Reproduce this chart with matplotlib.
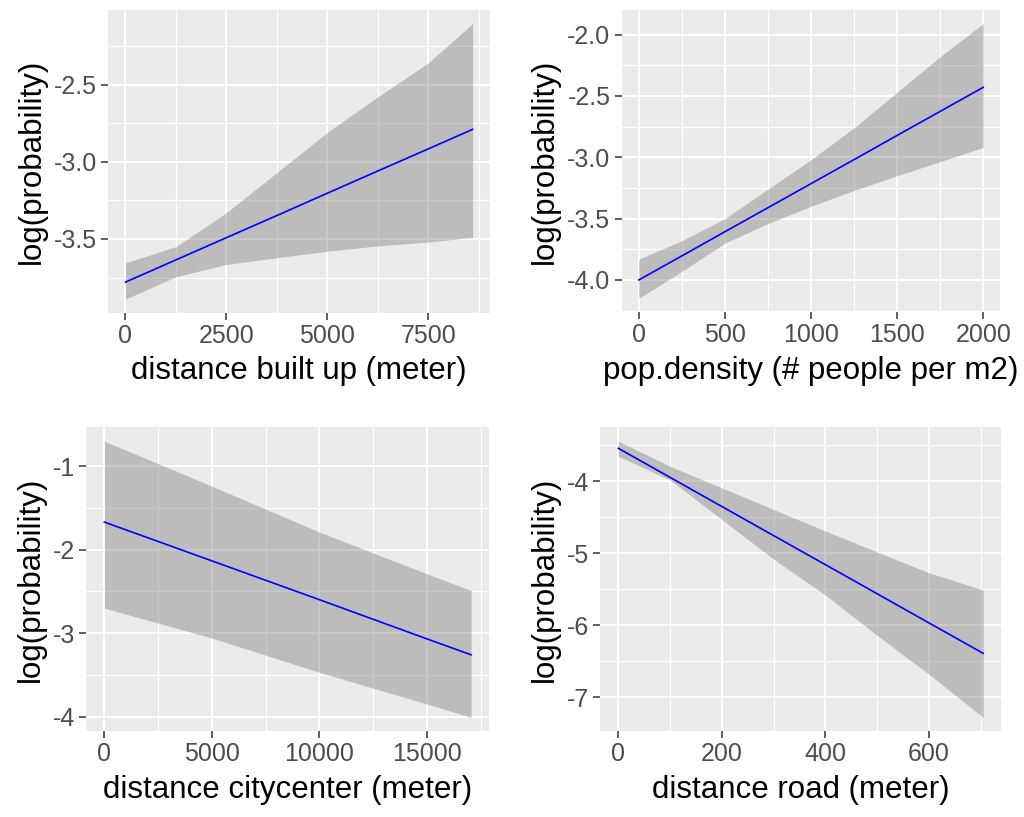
import matplotlib
matplotlib.use("Agg")
import matplotlib.pyplot as plt
import numpy as np

plt.rcParams['font.family'] = ['Liberation Sans', 'DejaVu Sans']
plt.rcParams['axes.unicode_minus'] = False

# distance built up
built_x = [0, 1250, 2500, 3800, 5000, 6250, 7500, 8600]
built_fit = [-3.78, -3.636, -3.492, -3.343, -3.204, -3.06, -2.917, -2.79]
built_lo = [-3.89, -3.745, -3.665, -3.62, -3.58, -3.545, -3.52, -3.49]
built_hi = [-3.655, -3.55, -3.33, -3.06, -2.81, -2.58, -2.36, -2.105]
built_xticks = [0, 2500, 5000, 7500]
built_yticks = [-3.5, -3.0, -2.5]
built_ylabels = ['-3.5', '-3.0', '-2.5']

# population density
pop_x = [0, 250, 500, 750, 1000, 1250, 1500, 1750, 2000]
pop_fit = [-4.0, -3.804, -3.607, -3.411, -3.215, -3.019, -2.822, -2.626, -2.43]
pop_lo = [-4.15, -3.93, -3.70, -3.54, -3.40, -3.27, -3.15, -3.035, -2.92]
pop_hi = [-3.83, -3.68, -3.50, -3.26, -3.02, -2.76, -2.47, -2.18, -1.91]
pop_xticks = [0, 500, 1000, 1500, 2000]
pop_yticks = [-4.0, -3.5, -3.0, -2.5, -2.0]
pop_ylabels = ['-4.0', '-3.5', '-3.0', '-2.5', '-2.0']

# distance city center
city_x = [0, 5000, 10000, 15000, 17050]
city_fit = [-1.67, -2.135, -2.60, -3.07, -3.26]
city_lo = [-2.70, -3.06, -3.47, -3.85, -4.01]
city_hi = [-0.70, -1.24, -1.79, -2.29, -2.49]
city_xticks = [0, 5000, 10000, 15000]
city_yticks = [-4, -3, -2, -1]
city_ylabels = ['-4', '-3', '-2', '-1']

# distance road
road_x = [0, 100, 200, 300, 400, 500, 600, 705]
road_fit = [-3.54, -3.944, -4.349, -4.753, -5.157, -5.561, -5.966, -6.39]
road_lo = [-3.65, -3.98, -4.53, -5.08, -5.58, -6.14, -6.68, -7.28]
road_hi = [-3.44, -3.79, -4.09, -4.39, -4.69, -4.98, -5.27, -5.51]
road_xticks = [0, 200, 400, 600]
road_yticks = [-7, -6, -5, -4]
road_ylabels = ['-7', '-6', '-5', '-4']


def midpoints(ticks):
    t = np.asarray(ticks, dtype=float)
    step = t[1] - t[0]
    t = np.concatenate([[t[0] - step], t, [t[-1] + step]])
    return (t[:-1] + t[1:]) / 2


def panel(ax, x, fit, lo, hi, xticks, yticks, ylabels, xlabel):
    ax.set_facecolor('#EBEBEB')
    ax.fill_between(x, lo, hi, color='#777777', alpha=0.4, lw=0)
    ax.plot(x, fit, color='blue', lw=1.2)

    # ggplot style 5% expansion
    xr = max(x) - min(x)
    ymin, ymax = min(lo), max(hi)
    yr = ymax - ymin
    xlim = (min(x) - 0.05 * xr, max(x) + 0.05 * xr)
    ylim = (ymin - 0.05 * yr, ymax + 0.05 * yr)

    ax.set_xticks(xticks)
    ax.set_xticklabels([str(v) for v in xticks])
    ax.set_yticks(yticks)
    ax.set_yticklabels(ylabels)
    ax.set_xticks(midpoints(xticks), minor=True)
    ax.set_yticks(midpoints(yticks), minor=True)
    ax.set_xlim(xlim)
    ax.set_ylim(ylim)

    ax.grid(which='major', color='white', lw=1.5)
    ax.grid(which='minor', color='white', lw=0.8)
    ax.set_axisbelow(True)
    for s in ax.spines.values():
        s.set_visible(False)
    ax.tick_params(which='major', length=5, width=1.1, color='#333333',
                   labelcolor='#4D4D4D', labelsize=18, pad=3)
    ax.tick_params(which='minor', length=0)
    ax.set_xlabel(xlabel, fontsize=22.5, labelpad=6)
    ax.set_ylabel('log(probability)', fontsize=22.5, labelpad=5)


fig = plt.figure(figsize=(10.24, 8.17), dpi=100)
ax1 = fig.add_axes([0.1055, 0.617, 0.373, 0.371])
ax2 = fig.add_axes([0.607, 0.618, 0.370, 0.370])
ax3 = fig.add_axes([0.084, 0.105, 0.394, 0.372])
ax4 = fig.add_axes([0.586, 0.105, 0.392, 0.372])

panel(ax1, built_x, built_fit, built_lo, built_hi, built_xticks,
      built_yticks, built_ylabels, 'distance built up (meter)')
panel(ax2, pop_x, pop_fit, pop_lo, pop_hi, pop_xticks,
      pop_yticks, pop_ylabels, 'pop.density (# people per m2)')
panel(ax3, city_x, city_fit, city_lo, city_hi, city_xticks,
      city_yticks, city_ylabels, 'distance citycenter (meter)')
panel(ax4, road_x, road_fit, road_lo, road_hi, road_xticks,
      road_yticks, road_ylabels, 'distance road (meter)')

fig.savefig('out.png', dpi=100)
